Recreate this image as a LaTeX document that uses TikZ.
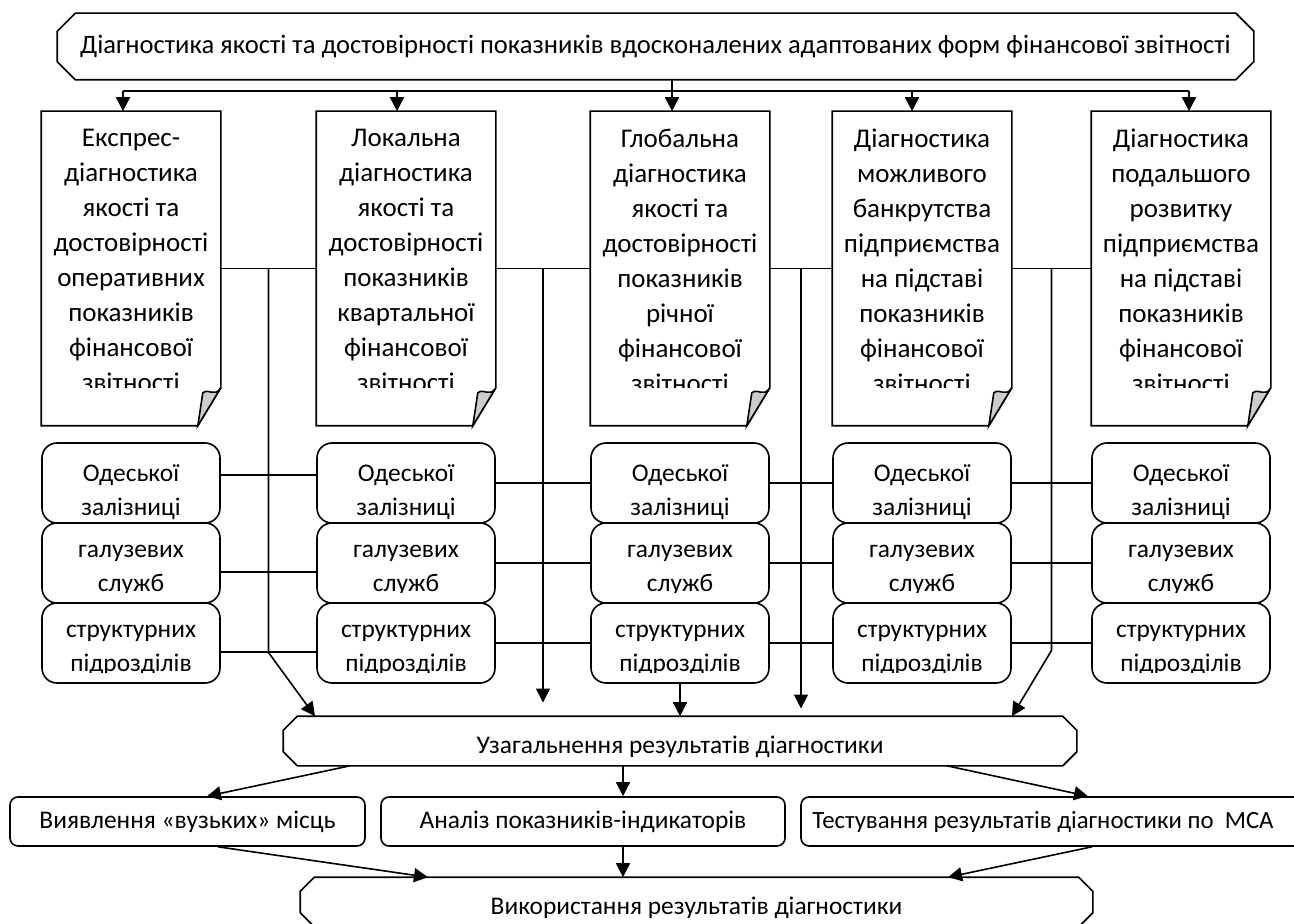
\documentclass[tikz,border=0pt]{standalone}
\usepackage{fontspec}
\setmainfont{Carlito}
\usetikzlibrary{arrows.meta,calc}

\begin{document}
\begin{tikzpicture}[x=0.5pt,y=-0.5pt,line width=0.8pt,
		>={Triangle[length=7pt,width=7pt]},
		banner/.style={inner sep=0pt,font=\fontsize{12.7}{14}\selectfont},
		docbox/.style={minimum width=89pt,minimum height=156.5pt,inner sep=0pt},
		doctext/.style={anchor=north,inner sep=0pt,align=center,font=\fontsize{13.5}{17.5}\selectfont},
		unitbox/.style={draw,rounded corners=7.5pt,minimum width=89pt,minimum height=40pt,inner sep=0pt},
		unittext/.style={anchor=north,inner sep=0pt,align=center,font=\fontsize{12.7}{17}\selectfont},
		stepbox/.style={draw,rounded corners=4pt,minimum height=24.5pt,inner sep=0pt,font=\fontsize{12.7}{14}\selectfont}]
		\useasboundingbox (0,0) rectangle (1294,924);
		\clip (0,0) rectangle (1294,924);
		%%%
		\node[banner,minimum width=597.5pt,minimum height=32.5pt,font=\fontsize{13.3}{15}\selectfont] (top) at (655.5,46.5) {Діагностика якості та достовірності показників вдосконалених адаптованих форм фінансової звітності};
		%%%
		\foreach \i/\xl/\txt in {1/42/{Експрес-\\діагностика\\якості та\\достовірності\\оперативних\\показників\\фінансової\\звітності},
				2/317/{Локальна\\діагностика\\якості та\\достовірності\\показників\\квартальної\\фінансової\\звітності},
				3/591/{Глобальна\\діагностика\\якості та\\достовірності\\показників\\річної\\фінансової\\звітності},
				4/833/{Діагностика\\можливого\\банкрутства\\підприємства\\на підставі\\показників\\фінансової\\звітності},
				5/1092/{Діагностика\\подальшого\\розвитку\\підприємства\\на підставі\\показників\\фінансової\\звітності}}{
			\node[docbox] (d\i) at (\xl+89,268.5) {};
			\draw (d\i.north west) -- (d\i.north east) -- ($(d\i.south east)+(0,-38)$) -- ($(d\i.south east)+(-23,0)$) -- (d\i.south west) -- cycle;
			\begin{scope}[shift={(d\i.south east)}]
				\filldraw[fill=gray!40] (-23,0) -- (-18,-33) .. controls (-12,-38) and (-6,-28) .. (0,-38) -- cycle;
			\end{scope}
			\begin{scope}
				\clip (d\i.north west) rectangle ($(d\i.south east)+(0,-38)$);
				\node[doctext] (t\i) at ($(d\i.north)+(0,17)$) {\txt};
			\end{scope}
			%%%
			\foreach \j/\yt/\cut/\la/\lb in {1/443/78/Одеської/залізниці,2/523/70/галузевих/служб,3/603/70/структурних/підрозділів}{
				\node[unitbox] (r\i\j) at (\xl+89,\yt+40) {};
				\begin{scope}
					\clip (r\i\j.north west) rectangle ($(r\i\j.north east)+(0,\cut)$);
					\node[unittext] (s\i\j) at ($(r\i\j.north)+(0,22)$) {\la\\\lb};
				\end{scope}
			}
		}
		%%%
		\node[banner,minimum width=396pt,minimum height=24pt] (sum) at (680,741) {\raisebox{-3pt}[\height][\depth]{Узагальнення результатів діагностики}};
		\node[stepbox,minimum width=177.5pt] (b1) at (187.5,821.5) {Виявлення «вузьких» місць};
		\node[stepbox,minimum width=202pt] (b2) at (583,821.5) {Аналіз показників-індикаторів};
		\node[stepbox,minimum width=251.5pt,font=\fontsize{12.4}{14}\selectfont] (b3) at (1052.5,821.5) {\hspace*{-9.5pt}Тестування результатів діагностики по\ \ МСА};
		\node[banner,minimum width=395.5pt,minimum height=24pt] (use) at (696.5,902) {\raisebox{-3pt}[\height][\depth]{Використання результатів діагностики}};
		\foreach \n/\c in {top/18,sum/14,use/14}
			\draw ($(\n.north west)+(\c,0)$) -- ($(\n.north east)+(-\c,0)$) -- ($(\n.north east)+(0,\c)$) -- ($(\n.south east)+(0,-\c)$) -- ($(\n.south east)+(-\c,0)$) -- ($(\n.south west)+(\c,0)$) -- ($(\n.south west)+(0,-\c)$) -- ($(\n.north west)+(0,\c)$) -- cycle;
		%%%
		\draw ($(d1.north)+(-8,-20)$) -- ($(d5.north)+(8,-20)$);
		\draw (top.south -| t3.north) ++(-8,0) -- ($(d3.north)+(-8,-20)$);
		\foreach \i/\dx in {1/-8,2/-9,3/-8,4/-10,5/8}
			\draw[->] ($(d\i.north)+(\dx,-20)$) -- ($(d\i.north)+(\dx,0)$);
		%%%
		\foreach \i/\k in {1/2,2/3,3/4,4/5}{
			\draw (d\i.east) -- (d\k.west);
			\coordinate (m\i) at ($(d\i.east)!0.5!(d\k.west)$);
		}
		\foreach \j/\dy in {1/-8,2/9,3/9}
			\draw ($(r1\j.east)+(0,\dy)$) -- ($(r2\j.west)+(0,\dy)$);
		\foreach \j in {1,2,3}
			\foreach \i/\k in {2/3,3/4,4/5}
				\draw (r\i\j.east) -- (r\k\j.west);
		%%%
		\draw[->] (m1) -- ++(0,384) -- ($(sum.north)+(-365,0)$);
		\draw[->] (m2) -- ++(0,434);
		\draw[->] (m3) -- ++(0,440);
		\draw[->] (m4) -- ++(0,382) -- ($(sum.north)+(332,0)$);
		\draw[->] (r33.south) -- (sum.north);
		%%%
		\draw[->] ($(sum.south)+(-330,0)$) -- ($(b1.north)+(19.5,0)$);
		\draw[->] ($(sum.south)+(-57,0)$) -- ($(b2.north)+(40,0)$);
		\draw[->] ($(sum.south)+(267,0)$) -- ($(b3.north)+(35.5,0)$);
		\draw[->] ($(b1.south)+(30.5,0)$) -- ($(use.north)+(-268.5,0)$);
		\draw[->] ($(b2.south)+(40,0)$) -- ($(use.north)+(-73.5,0)$);
		\draw[->] ($(b3.south)+(39.5,0)$) -- ($(use.north)+(251.5,0)$);
	\end{tikzpicture}
\end{document}
